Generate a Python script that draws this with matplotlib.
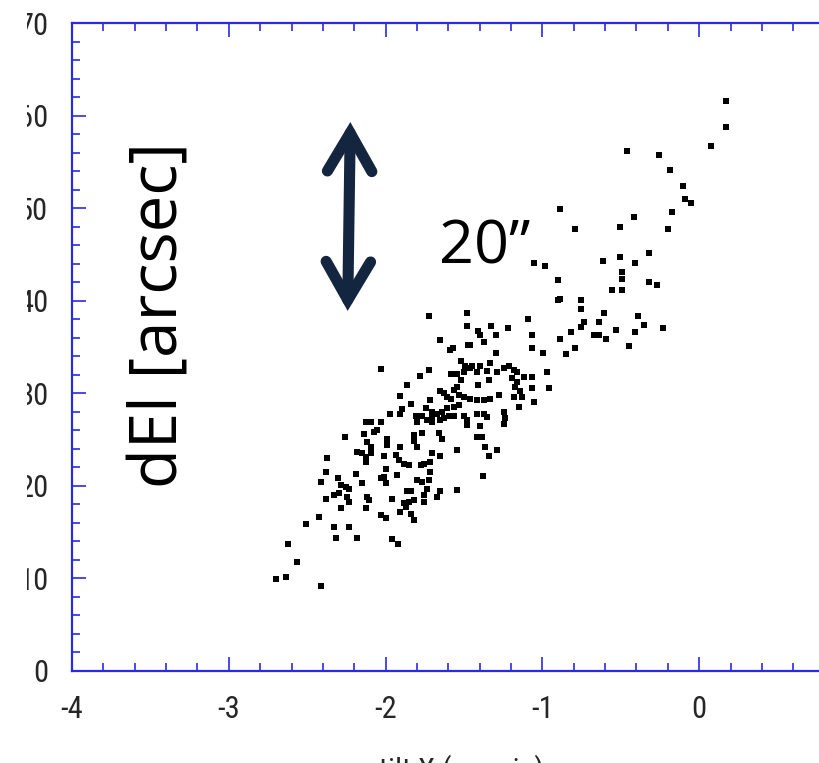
import matplotlib
matplotlib.use("Agg")
import matplotlib.pyplot as plt
from matplotlib.patches import FancyArrowPatch, Rectangle
from matplotlib.ticker import MultipleLocator

plt.rcParams['font.family'] = ['Roboto Condensed', 'Liberation Sans Narrow', 'DejaVu Sans']
plt.rcParams['axes.unicode_minus'] = False

# offset in X (left) and dEl in arcsec
dense_x = [
    -1.724, -1.478, -1.094,
    -1.478, -1.410, -1.327, -1.219, -1.395, -1.299, -1.066, -1.374,
    -1.656, -1.592, -1.571, -1.476, -1.459, -1.299, -1.066, -0.996,
    -1.518, -1.491, -1.448, -1.395, -1.331, -1.353, -1.246, -1.215, -1.183, -1.161,
    -1.119, -1.066, -0.970, -1.586, -1.544, -1.501, -1.459, -1.724, -1.781, -2.028,
    -1.416, -1.289, -1.522, -1.342, -1.193, -1.161,
    -1.862, -1.544, -1.654, -1.629, -1.607, -1.586, -1.533, -1.501, -1.459, -1.416,
    -1.374, -1.331, -1.278, -1.172, -1.140, -1.066, -0.956, -1.905, -1.714, -1.183,
    -1.130, -1.410, -1.565,
    -1.837, -1.894, -1.909, -1.975, -1.745, -1.809, -1.767, -1.703, -1.671, -1.639,
    -1.607, -1.565, -1.533, -1.597, -1.565, -1.501, -1.484, -1.416, -1.374, -1.353,
    -1.246, -1.236, -1.246, -1.151, -1.055, -1.798, -1.735, -1.703, -1.650, -1.629,
    -2.128, -2.096, -2.032, -1.480, -1.395, -1.703,
    -2.074, -2.053, -2.138, -2.259, -1.990, -1.990, -1.820, -1.820, -1.767, -1.660,
    -1.639, -1.416, -1.384, -2.121, -2.096, -1.905, -1.798, -1.544, -1.363, -1.289,
    -2.181, -2.149, -2.128, -2.096, -2.011, -1.936, -1.915, -1.883, -1.852, -1.777,
    -1.756, -1.703, -1.714, -1.650, -1.342, -2.372, -2.128,
    -2.382, -2.191, -2.000, -2.011, -1.926, -1.798, -1.767, -1.724, -1.714, -2.414,
    -2.304, -2.149, -2.032, -2.000, -1.380,
    -2.287, -2.255, -2.234, -2.329, -2.297, -2.244, -2.234, -2.117, -2.106, -1.958,
    -1.862, -1.841, -1.756, -1.735, -1.671, -1.650, -1.544, -1.820, -1.883, -1.852,
    -2.382, -2.287, -2.128, -2.032, -2.000, -1.905, -1.873, -1.841, -1.820, -1.756,
    -2.425, -2.510, -2.329, -2.234,
    -2.314, -2.181, -1.962, -1.919, -2.620, -2.563, -2.701, -2.633, -2.414,
]
dense_y = [
    38.4, 38.7, 38.0,
    37.3, 36.7, 37.3, 37.0, 36.3, 36.3, 36.3, 35.5,
    35.8, 34.7, 34.9, 35.2, 35.2, 34.4, 34.9, 34.4,
    33.5, 33.0, 33.0, 32.9, 33.3, 32.4, 32.7, 32.9, 32.5, 32.3,
    31.8, 31.8, 32.3, 32.1, 32.1, 32.3, 32.7, 32.5, 31.9, 32.6,
    32.3, 32.3, 31.4, 31.4, 31.6, 31.2,
    30.9, 30.7, 30.3, 30.0, 29.6, 29.4, 29.8, 29.6, 29.4, 29.3,
    29.3, 29.4, 29.8, 30.7, 30.3, 30.6, 30.6, 29.7, 29.3, 29.6,
    29.6, 30.9, 30.4,
    28.8, 28.3, 27.8, 27.8, 28.4, 27.6, 27.6, 28.0, 27.8, 28.0,
    28.4, 28.5, 28.7, 27.6, 27.5, 27.5, 27.1, 27.8, 27.8, 27.4,
    28.0, 27.3, 26.7, 28.5, 29.1, 26.9, 27.1, 26.9, 27.1, 27.3,
    26.9, 26.9, 26.9, 26.6, 26.5, 27.5,
    25.8, 26.0, 25.6, 25.3, 25.1, 24.4, 25.5, 24.8, 25.7, 25.7,
    25.1, 25.3, 25.3, 24.7, 24.2, 24.2, 24.2, 23.9, 24.2, 23.9,
    23.7, 23.5, 23.1, 23.5, 23.2, 23.3, 22.8, 22.4, 22.2, 22.2,
    22.4, 23.5, 22.6, 23.2, 23.2, 23.0, 22.6,
    21.5, 21.3, 21.8, 21.0, 21.2, 20.6, 20.4, 20.6, 21.5, 20.4,
    20.8, 20.3, 20.8, 20.3, 21.1,
    20.1, 19.9, 19.7, 19.0, 19.2, 18.8, 18.3, 18.8, 18.5, 18.6,
    19.4, 19.4, 19.0, 19.7, 18.8, 19.4, 19.6, 18.5, 18.1, 18.3,
    18.6, 17.6, 17.6, 16.8, 16.5, 17.2, 17.7, 17.0, 16.3, 18.3,
    16.6, 15.9, 15.6, 15.6,
    14.4, 14.4, 14.3, 13.7, 13.7, 11.8, 9.9, 10.2, 9.2,
]
upper_x = [
    0.171, 0.171, 0.074, -0.461, -0.255, -0.185, -0.105, -0.090, -0.051, -0.175,
    -0.419, -0.504, -0.200, -0.890, -0.790, -0.323, -0.504, -0.614, -0.408, -1.051,
    -0.986, -0.901, -0.493, -0.493, -0.557, -0.493, -0.323, -0.270, -0.886, -0.901,
    -0.752, -0.752, -0.610, -0.391, -0.351, -0.637, -0.737, -0.752, -0.818, -0.674,
    -0.642, -0.593, -0.529, -0.408, -0.228, -0.890, -0.790, -0.848, -0.446,
]
upper_y = [
    61.6, 58.8, 56.7, 56.2, 55.7, 54.1, 52.4, 51.0, 50.6, 49.6,
    49.0, 48.0, 47.7, 49.9, 47.7, 45.2, 44.7, 44.3, 44.1, 44.1,
    43.8, 42.2, 43.1, 42.3, 41.2, 41.2, 42.0, 41.7, 40.2, 40.1,
    40.1, 39.1, 38.7, 38.4, 37.4, 37.7, 37.7, 37.2, 36.6, 36.3,
    36.3, 35.9, 36.8, 36.6, 37.0, 35.9, 34.9, 34.2, 35.1,
]
x_ticks = [-4, -3, -2, -1, 0]

blue = '#2a2ae6'
navy = '#13253f'
big_font = ['Open Sans', 'DejaVu Sans']

fig = plt.figure(figsize=(8.19, 7.63), dpi=100)
ax = fig.add_axes([72 / 819, 92 / 763, 784 / 819, 648 / 763])

ax.scatter(dense_x + upper_x, dense_y + upper_y, marker='s', s=25,
           color='black', linewidths=0, zorder=3)

ax.set_xlim(-4, 1)
ax.set_ylim(0, 70)
ax.set_xticks(x_ticks)
ax.xaxis.set_minor_locator(MultipleLocator(0.2))
ax.yaxis.set_major_locator(MultipleLocator(10))
ax.yaxis.set_minor_locator(MultipleLocator(2))

for s in ax.spines.values():
    s.set_color(blue)
    s.set_linewidth(1.6)
ax.tick_params(which='both', direction='in', top=True, right=True,
               color=blue, width=1.2, labelsize=22, labelcolor='#262626')
ax.tick_params(which='major', length=10)
ax.tick_params(which='minor', length=5.5)
ax.tick_params(axis='x', pad=17)
ax.tick_params(axis='y', pad=17)

# big overlaid labels
ax.text(0.112, 0.549, 'dEl [arcsec]', transform=ax.transAxes, rotation=90,
        ha='center', va='center', fontsize=47, family=big_font)
ax.text(-1.66, 44.0, '20\u201d', fontsize=44, family=big_font,
        ha='left', va='baseline')

arrow = FancyArrowPatch((-2.242, 38.9), (-2.225, 59.3),
                        arrowstyle='<->,head_length=0.55,head_width=0.32',
                        mutation_scale=50, linewidth=8, color=navy,
                        capstyle='round', joinstyle='miter',
                        shrinkA=0, shrinkB=0, zorder=4)
ax.add_patch(arrow)

# x label, mostly clipped by the bottom edge as in the original
fig.text(462 / 819, 1 - 754 / 763, 'tilt X (arcmin)', ha='center', va='top',
         fontsize=22, color='#262626')

# white strip at the left that hides part of the tick labels
fig.add_artist(Rectangle((0, 0), 27 / 819, 1, transform=fig.transFigure,
                         facecolor='white', edgecolor='none', zorder=10))

fig.savefig('out.png', dpi=100)
